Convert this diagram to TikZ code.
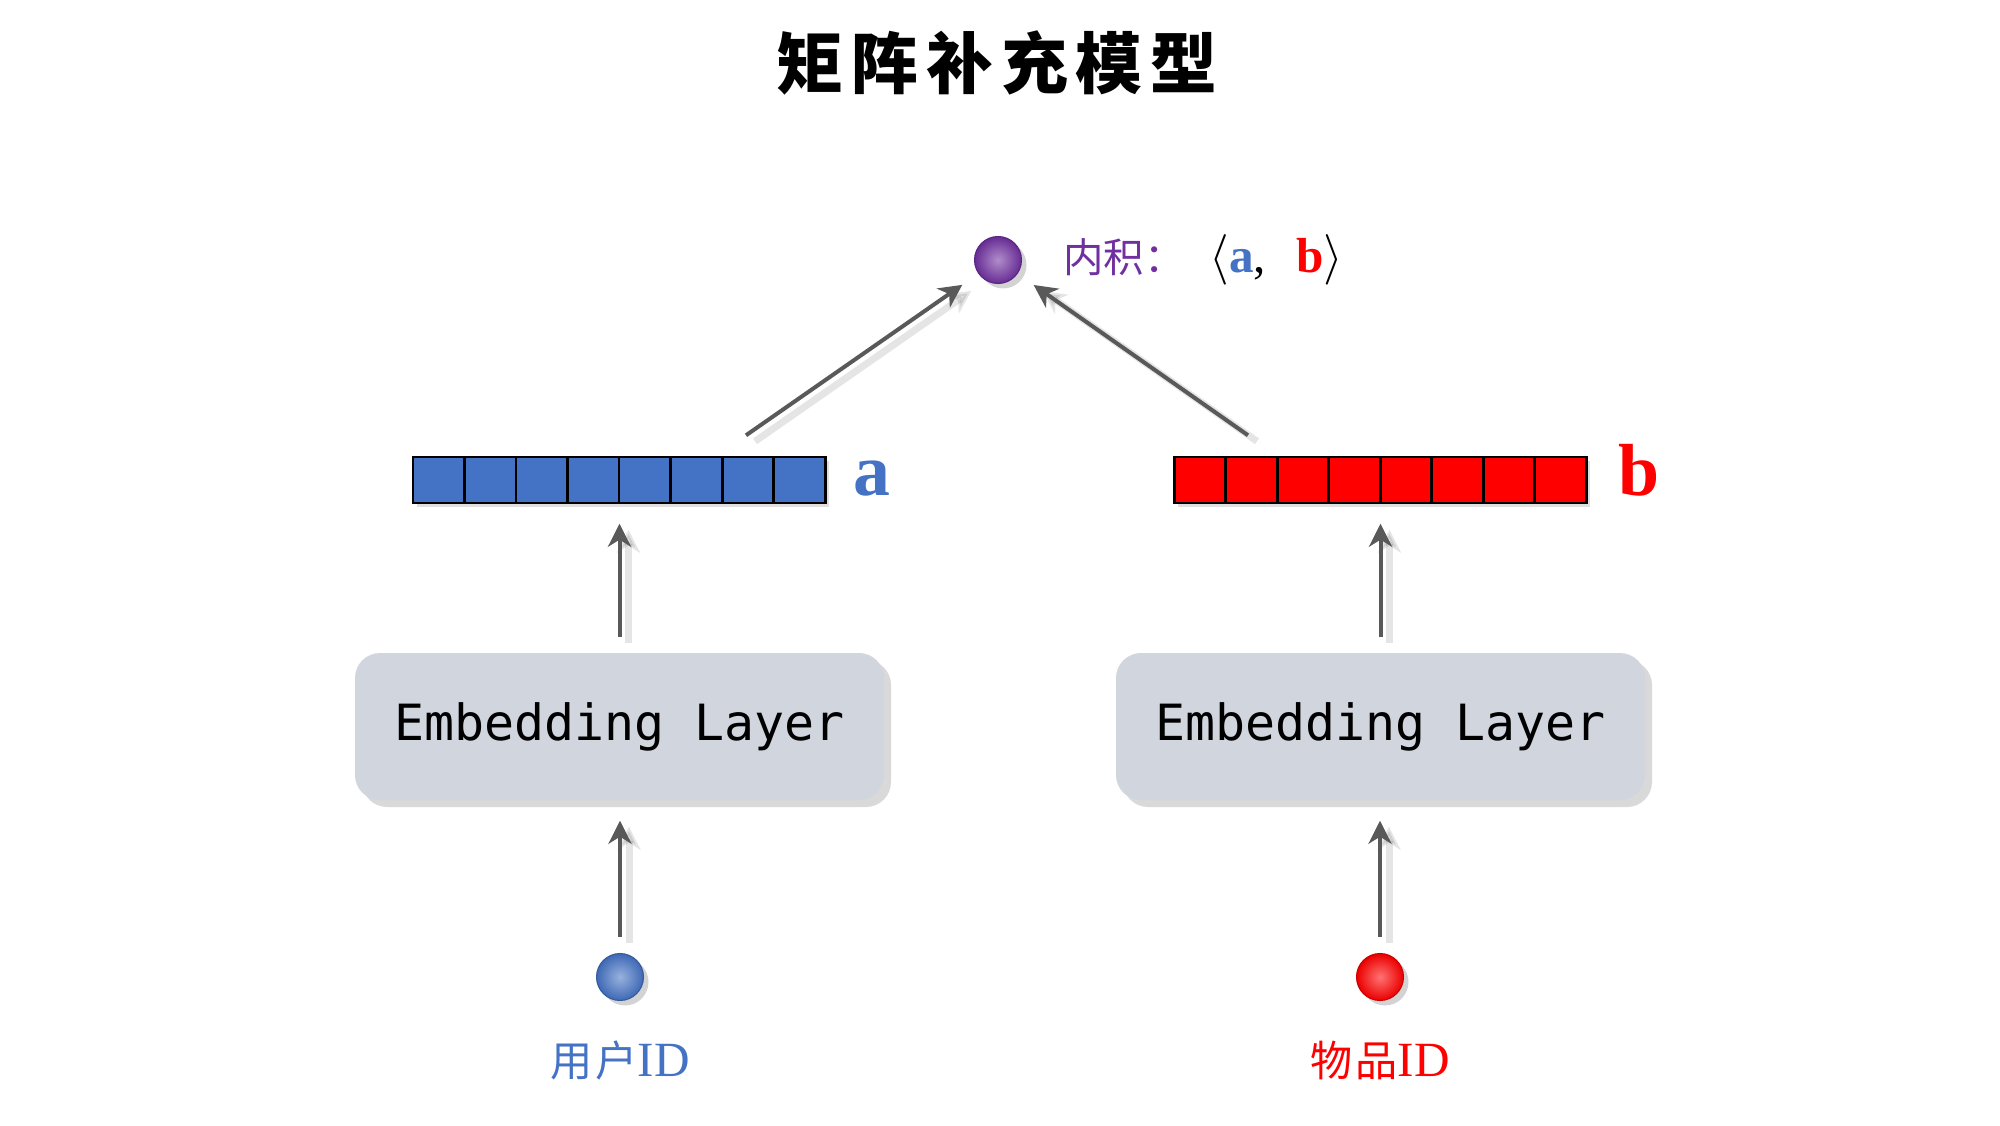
\documentclass[tikz,border=0pt]{standalone}
\usepackage{fontspec}
\setmainfont{Liberation Serif}
\setmonofont{DejaVu Sans Mono}
\newfontfamily\cjk{Noto Sans CJK SC}
\usetikzlibrary{arrows.meta, positioning, fit, chains, shadows, backgrounds}

\definecolor{vecblue}{HTML}{4472C4}
\definecolor{vecred}{HTML}{FF0000}
\definecolor{dotpurple}{HTML}{7030A0}
\definecolor{layergray}{HTML}{D0D5DE}
\definecolor{arrowgray}{HTML}{595959}

\tikzstyle{cell} = [rectangle, draw=black, line width=0.85pt, minimum width=0.515cm, minimum height=0.46cm, inner sep=0pt, outer sep=0pt]
\tikzstyle{embed} = [rectangle, rounded corners=0.25cm, fill=layergray, minimum width=5.29cm, minimum height=1.47cm, font=\ttfamily\fontsize{14.2pt}{16pt}\selectfont, drop shadow={shadow xshift=0.07cm, shadow yshift=-0.07cm, opacity=0.3}]
\tikzstyle{sphere} = [circle, minimum size=0.47cm, inner sep=0pt, outer sep=0pt, draw=#1!80!black, line width=0.3pt, shading=radial, inner color=#1!55!white, outer color=#1!92!black, drop shadow={shadow xshift=0.05cm, shadow yshift=-0.05cm, opacity=0.35}]
\tikzstyle{link} = [line width=0.04cm, draw=arrowgray, -{Stealth[length=0.23cm, width=0.23cm, inset=0.07cm]}, preaction={draw=black, opacity=0.1, line width=0.07cm, transform canvas={shift={(0.09,-0.06)}}}]

\begin{document}
\begin{tikzpicture}[node distance=0pt, start chain=1 going right, start chain=2 going right]
    \useasboundingbox (0,0) rectangle (20,11.25);

    \node[font=\cjk\bfseries\fontsize{19pt}{19pt}\selectfont\addfontfeature{LetterSpace=12}] (title) at (9.97,10.62) {矩阵补充模型};

    % inner product
    \node[sphere=dotpurple] (prod) at (9.98,8.65) {};
    \node[right=0.41cm of prod, inner sep=0pt] (prodLabel) {{\cjk\fontsize{11.5pt}{12pt}\selectfont\color{dotpurple}内积：}\hspace{0.25cm}{\fontsize{14pt}{16pt}\selectfont$\langle$\textbf{\color{vecblue}a},\hspace{0.3cm}\textbf{\color{vecred}b}$\rangle$}};

    % vectors
    \node[cell, fill=vecblue, on chain=1] (a1) at (4.3875,6.45) {};
    \foreach \i in {2,...,8}
        \node[cell, fill=vecblue, on chain=1] (a\i) {};
    \node[cell, fill=vecred, on chain=2] (b1) at (11.9975,6.45) {};
    \foreach \i in {2,...,8}
        \node[cell, fill=vecred, on chain=2] (b\i) {};
    \begin{scope}[on background layer]
        \node[fit={(a1) (a8)}, inner sep=0pt, fill=white, drop shadow={shadow xshift=0.04cm, shadow yshift=-0.04cm, opacity=0.25}] (avec) {};
        \node[fit={(b1) (b8)}, inner sep=0pt, fill=white, drop shadow={shadow xshift=0.04cm, shadow yshift=-0.04cm, opacity=0.25}] (bvec) {};
    \end{scope}
    \node[anchor=base west, inner sep=0pt, font=\bfseries\fontsize{21pt}{22pt}\selectfont, text=vecblue] (aLabel) at ([xshift=0.27cm, yshift=0.08cm]avec.south east) {a};
    \node[anchor=base west, inner sep=0pt, font=\bfseries\fontsize{21pt}{22pt}\selectfont, text=vecred] (bLabel) at ([xshift=0.31cm, yshift=0.08cm]bvec.south east) {b};

    % embedding layers
    \node[embed] (userEmb) at (6.195,3.985) {Embedding Layer};
    \node[embed] (itemEmb) at (13.805,3.985) {Embedding Layer};

    % inputs
    \node[sphere=vecblue] (user) at (6.20,1.48) {};
    \node[sphere=vecred] (item) at (13.80,1.48) {};
    \node[below=0.4cm of user, inner sep=0pt, text=vecblue, font=\fontsize{14pt}{16pt}\selectfont] (userLabel) {{\cjk\fontsize{12pt}{12pt}\selectfont\addfontfeature{LetterSpace=8}用户}ID};
    \node[below=0.4cm of item, inner sep=0pt, text=vecred, font=\fontsize{14pt}{16pt}\selectfont] (itemLabel) {{\cjk\fontsize{12pt}{12pt}\selectfont\addfontfeature{LetterSpace=8}物品}ID};

    \coordinate (aOut) at ([xshift=1.27cm, yshift=0.21cm]avec.north);
    \coordinate (bOut) at ([xshift=-1.32cm, yshift=0.21cm]bvec.north);

    \draw[link, shorten <=0.165cm, shorten >=0.2cm] (user) -- (user|-userEmb.south);
    \draw[link, shorten <=0.165cm, shorten >=0.2cm] (item) -- (item|-itemEmb.south);
    \draw[link, shorten <=0.15cm, shorten >=0.2cm] (userEmb.north) -- (userEmb.north|-avec.south);
    \draw[link, shorten <=0.15cm, shorten >=0.2cm] (itemEmb.north) -- (itemEmb.north|-bvec.south);
    \draw[link, shorten >=0.2cm] (aOut) -- (prod);
    \draw[link, shorten >=0.2cm] (bOut) -- (prod);

\end{tikzpicture}
\end{document}
